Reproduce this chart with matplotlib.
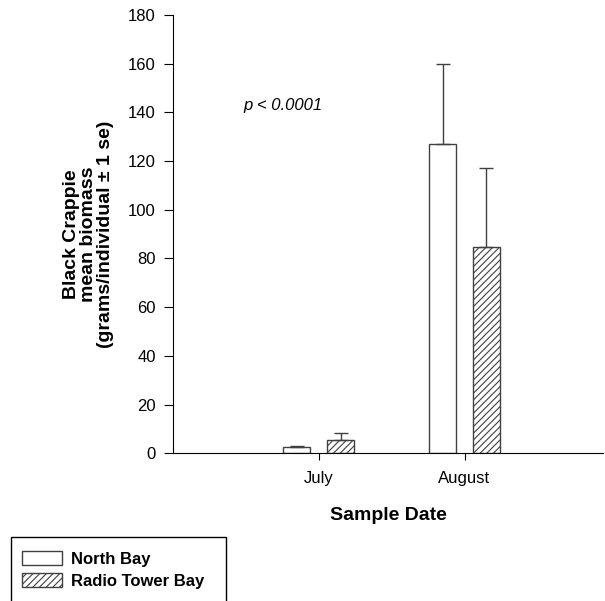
import matplotlib as mlp
import matplotlib.pyplot as plt
from matplotlib.patches import Rectangle
import numpy as np

mlp.rcParams['font.family'] = 'Liberation Sans'
mlp.rcParams['hatch.linewidth'] = 0.8

months = ['July', 'August']
north_bay = [2.7, 127]
north_bay_se = [0.4, 33]
radio_tower = [5.3, 84.8]
radio_tower_se = [2.9, 32.5]

fig = plt.figure(figsize=(6.05, 6.01), dpi=100)
ax = fig.add_axes([173/605, 1-453.3/601, 430/605, 438.3/601])

x = np.arange(1, len(months) + 1)
w = 0.185
off = 0.15
ekw = dict(ecolor='#404040', elinewidth=1, capsize=5, capthick=1)
ax.bar(x - off, north_bay, w, color='white', edgecolor='#404040', linewidth=1,
       yerr=[np.zeros(2), north_bay_se], error_kw=ekw, label='North Bay')
ax.bar(x + off, radio_tower, w, color='white', edgecolor='#404040', linewidth=1, hatch='/////',
       yerr=[np.zeros(2), radio_tower_se], error_kw=ekw, label='Radio Tower Bay')

ax.set_xlim(0, 2.95)
ax.set_ylim(0, 180)
ax.set_yticks(np.arange(0, 181, 20))
ax.set_xticks(x)
ax.set_xticklabels(months, size=12)
ax.tick_params(axis='y', labelsize=12, length=6.5, pad=6)
ax.tick_params(axis='x', length=5, pad=8)
for s in ['top', 'right']:
    ax.spines[s].set_visible(False)

ax.set_xlabel('Sample Date', size=14, fontweight='bold', labelpad=15)
ax.set_ylabel('Black Crappie\nmean biomass\n(grams/individual \u00b1 1 se)', size=14,
              fontweight='bold', linespacing=1.0)
ax.yaxis.set_label_coords((114-173)/430, 0.5)
ax.text(0.48, 141, 'p < 0.0001', style='italic', size=12)

# legend box runs off the bottom of the figure
fig.patches.append(Rectangle((10.5/605, -0.05), 215/605, 0.05 + (601-537)/601,
                             transform=fig.transFigure, facecolor='none',
                             edgecolor='black', linewidth=1))
fig.legend(loc='upper left', bbox_to_anchor=(22/605, 1-551/601),
           prop=dict(weight='bold', size=12), frameon=False,
           handlelength=2.4, handleheight=0.9, handletextpad=0.55,
           borderpad=0, labelspacing=0.38, borderaxespad=0)

plt.savefig('out.png')
